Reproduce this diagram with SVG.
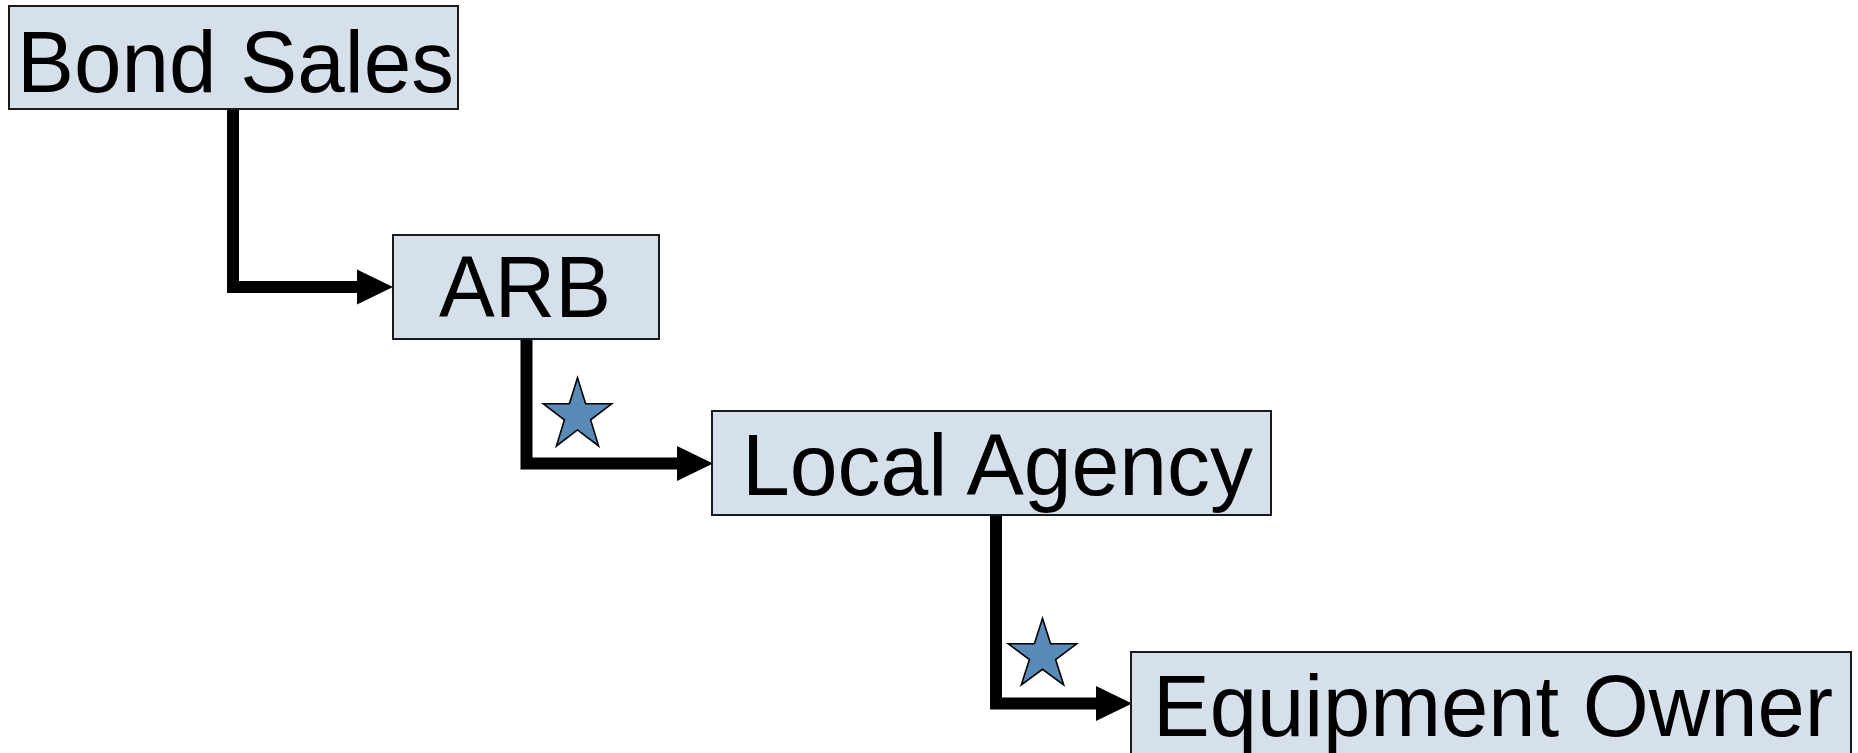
<svg xmlns="http://www.w3.org/2000/svg" width="1858" height="753" viewBox="0 0 1858 753">
<style>
.box{fill:#d5e0eb;stroke:#1a1a1a;stroke-width:2}
.lbl{font-family:"Liberation Sans",Arial,sans-serif;font-size:88px;fill:#000;text-anchor:middle}
.conn{fill:none;stroke:#000;stroke-width:12;stroke-linejoin:miter;stroke-linecap:butt}
.star{fill:#588bb8;stroke:#000;stroke-width:1.6;stroke-linejoin:miter}
</style>
<defs>
<marker id="arr" markerUnits="userSpaceOnUse" markerWidth="40" markerHeight="40" refX="0" refY="17.5" orient="auto" overflow="visible">
<path d="M0,0 L36,17.5 L0,35 Z" fill="#000"/>
</marker>
<polygon id="starShape" points="0,-1 0.2245,-0.309 0.951,-0.309 0.3633,0.118 0.5878,0.809 0,0.382 -0.5878,0.809 -0.3633,0.118 -0.951,-0.309 -0.2245,-0.309"/>
</defs>
<g id="connectors">
<path class="conn" d="M233,109 V287 H357" marker-end="url(#arr)"/>
<path class="conn" d="M526.5,339 V463.5 H677" marker-end="url(#arr)"/>
<path class="conn" d="M996,515 V703.5 H1096" marker-end="url(#arr)"/>
<polygon class="star" points="577.5,377.7 585.6,403.8 611.7,403.8 590.6,419.9 598.6,446 577.5,429.9 556.4,446 564.4,419.9 543.3,403.8 569.4,403.8"/>
<polygon class="star" points="1042.5,618.3 1050.6,643.8 1076.7,643.8 1055.6,659.6 1063.7,685 1042.5,669.3 1021.3,685 1029.4,659.6 1008.3,643.8 1034.4,643.8"/>
</g>
<g id="node-bond-sales">
<rect class="box" x="9" y="6" width="449" height="103"/>
<text class="lbl" x="235.5" y="92" textLength="437" lengthAdjust="spacingAndGlyphs">Bond Sales</text>
</g>
<g id="node-arb">
<rect class="box" x="393" y="235" width="266" height="104"/>
<text class="lbl" x="525" y="317" textLength="172" lengthAdjust="spacingAndGlyphs">ARB</text>
</g>
<g id="node-local-agency">
<rect class="box" x="712" y="411" width="559" height="104"/>
<text class="lbl" x="997.5" y="495" textLength="511" lengthAdjust="spacingAndGlyphs">Local Agency</text>
</g>
<g id="node-equipment-owner">
<rect class="box" x="1131" y="652" width="720" height="104"/>
<text class="lbl" x="1493" y="736" textLength="680" lengthAdjust="spacingAndGlyphs">Equipment Owner</text>
</g>
</svg>
